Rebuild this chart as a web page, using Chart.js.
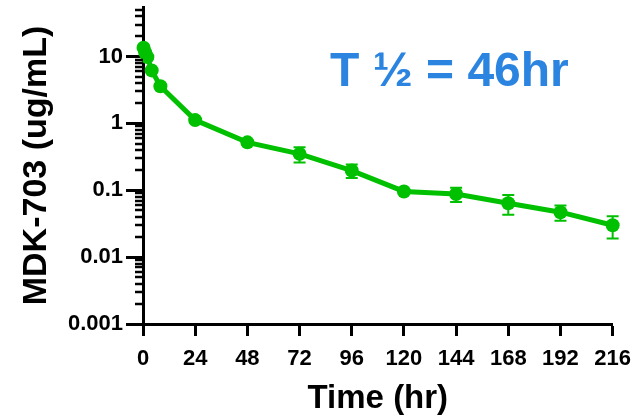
<!DOCTYPE html>
<html>
<head>
<meta charset="utf-8">
<script src="https://cdn.jsdelivr.net/npm/chart.js@4/dist/chart.umd.min.js"></script>
<style>
  html, body { margin: 0; padding: 0; background: #fff; }
  #wrap { width: 641px; height: 417px; position: relative; }
</style>
</head>
<body>
<div id="wrap"><canvas id="c" width="641" height="417"></canvas></div>
<script>
// Plasma concentration of MDK-703 over time (mean ± SD)
const timeHr = [0.25, 1, 2, 4, 8, 24, 48, 72, 96, 120, 144, 168, 192, 216];
const concMean = [13.5, 11.5, 9.8, 6.2, 3.6, 1.12, 0.52, 0.35, 0.197, 0.096, 0.088, 0.064, 0.047, 0.030];
const concSD = [0.8, 0.6, 0.5, 0.3, 0.2, 0.08, 0.04, 0.09, 0.045, 0.005, 0.021, 0.021, 0.012, 0.011];
const xTicks = [0, 24, 48, 72, 96, 120, 144, 168, 192, 216];
const yDecades = [0.001, 0.01, 0.1, 1, 10];
const yMax = 55;
const halfLifeLabel = 'T ½ = 46hr';

const FONT = '"Liberation Sans", Arial, Helvetica, sans-serif';
const GREEN = '#00C000';
const BLUE = '#2B84E0';

// Vertical SD bars with caps
const errorBars = {
  id: 'errorBars',
  beforeDatasetsDraw(chart) {
    const { ctx, scales: { x, y } } = chart;
    ctx.save();
    ctx.strokeStyle = GREEN;
    ctx.lineWidth = 2;
    timeHr.forEach((t, i) => {
      const px = x.getPixelForValue(t);
      const yHi = y.getPixelForValue(concMean[i] + concSD[i]);
      const yLo = y.getPixelForValue(Math.max(concMean[i] - concSD[i], 1e-4));
      ctx.beginPath();
      ctx.moveTo(px, yHi); ctx.lineTo(px, yLo);
      ctx.moveTo(px - 6, yHi); ctx.lineTo(px + 6, yHi);
      ctx.moveTo(px - 6, yLo); ctx.lineTo(px + 6, yLo);
      ctx.stroke();
    });
    ctx.restore();
  }
};

// Minor log ticks (2..9 within each decade) on the y axis
const minorTicks = {
  id: 'minorTicks',
  afterDraw(chart) {
    const { ctx, scales: { y } } = chart;
    const x0 = chart.chartArea.left;
    ctx.save();
    ctx.strokeStyle = '#000';
    ctx.lineWidth = 2.5;
    yDecades.forEach(d => {
      for (let k = 2; k <= 9; k++) {
        const v = k * d;
        if (v > yMax) break;
        const py = Math.round(y.getPixelForValue(v));
        ctx.beginPath();
        ctx.moveTo(x0 - 8, py);
        ctx.lineTo(x0, py);
        ctx.stroke();
      }
    });
    ctx.restore();
  }
};

// Half-life annotation
const halfLife = {
  id: 'halfLife',
  afterDraw(chart) {
    const { ctx } = chart;
    ctx.save();
    ctx.fillStyle = BLUE;
    ctx.font = 'bold 48px ' + FONT;
    ctx.textAlign = 'left';
    ctx.textBaseline = 'alphabetic';
    ctx.fillText(halfLifeLabel, 330, 86);
    ctx.restore();
  }
};

new Chart(document.getElementById('c'), {
  type: 'line',
  data: {
    datasets: [{
      data: timeHr.map((t, i) => ({ x: t, y: concMean[i] })),
      borderColor: GREEN,
      backgroundColor: GREEN,
      borderWidth: 5,
      pointRadius: 7,
      pointHoverRadius: 7,
      pointBorderWidth: 0,
      pointBackgroundColor: GREEN,
      tension: 0,
      clip: false
    }]
  },
  options: {
    responsive: false,
    animation: false,
    events: [],
    layout: { padding: { left: 0, right: 25, top: 7, bottom: 0 } },
    plugins: { legend: { display: false }, tooltip: { enabled: false } },
    scales: {
      x: {
        type: 'linear',
        min: 0,
        max: 216,
        afterBuildTicks(scale) { scale.ticks = xTicks.map(v => ({ value: v })); },
        afterFit(scale) { scale.height = 93; scale.paddingLeft = 0; },
        border: { display: true, color: '#000', width: 3 },
        grid: { drawOnChartArea: false, tickLength: 12, tickWidth: 3, tickColor: '#000' },
        ticks: {
          color: '#000',
          padding: 10,
          maxRotation: 0,
          font: { family: FONT, size: 22, weight: 'bold' }
        },
        title: {
          display: true,
          text: 'Time (hr)',
          color: '#000',
          font: { family: FONT, size: 33, weight: 'bold', lineHeight: 1 },
          padding: { top: 0, bottom: 2 }
        }
      },
      y: {
        type: 'logarithmic',
        min: 0.001,
        max: yMax,
        afterBuildTicks(scale) { scale.ticks = yDecades.map(v => ({ value: v })); },
        afterFit(scale) { scale.width = 143; scale.paddingTop = 0; scale.paddingBottom = 0; },
        border: { display: true, color: '#000', width: 3 },
        grid: { drawOnChartArea: false, tickLength: 17, tickWidth: 3, tickColor: '#000' },
        ticks: {
          color: '#000',
          padding: 3,
          font: { family: FONT, size: 22, weight: 'bold' },
          callback: v => String(v)
        },
        title: {
          display: true,
          text: 'MDK-703 (ug/mL)',
          color: '#000',
          font: { family: FONT, size: 34, weight: 'bold', lineHeight: 1 },
          padding: { top: 20, bottom: 0 }
        }
      }
    }
  },
  plugins: [errorBars, minorTicks, halfLife]
});
</script>
</body>
</html>
